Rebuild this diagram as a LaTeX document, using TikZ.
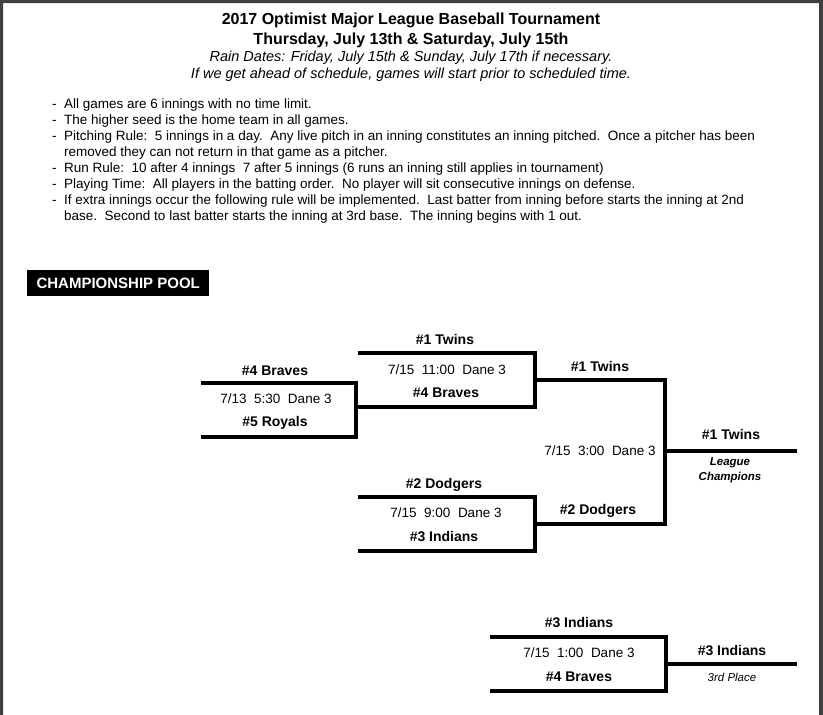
\documentclass[tikz,border=0pt]{standalone}
\usepackage{fontspec}
\setmainfont{Liberation Sans}
\usetikzlibrary{positioning}

\begin{document}
\begin{tikzpicture}[x=1pt,y=-1pt,
    team/.style={font=\fontsize{14}{16}\selectfont\bfseries, text height=10pt, text depth=0pt, inner sep=0pt},
    game/.style={font=\fontsize{13.5}{16}\selectfont, text height=10pt, text depth=0pt, inner sep=0pt},
    note/.style={font=\fontsize{11.5}{13}\selectfont\itshape, text height=8pt, text depth=0pt, inner sep=0pt},
    rule/.style={font=\fontsize{13.5}{16}\selectfont, anchor=base west, inner sep=0pt},
    bline/.style={line width=4pt, line join=miter, line cap=rect}]
    \useasboundingbox (0,0) rectangle (823,715);
    % frame of the page
    \fill[black!75] (0,0) rectangle (823,3)
                    (0,0) rectangle (3,715)
                    (819,0) rectangle (823,715);

    % heading
    \node[anchor=base, font=\fontsize{16}{19}\selectfont\bfseries] (title) at (411,24)
        {2017 Optimist Major League Baseball Tournament};
    \node[anchor=base, font=\fontsize{16}{19}\selectfont\bfseries] (dates) at (411,44)
        {Thursday, July 13th \& Saturday, July 15th};
    \node[anchor=base, font=\fontsize{14.5}{17}\selectfont\itshape] (rain) at (411,61)
        {Rain Dates: Friday, July 15th \& Sunday, July 17th if necessary.};
    \node[anchor=base, font=\fontsize{14.5}{17}\selectfont\itshape] (ahead) at (411,78)
        {If we get ahead of schedule, games will start prior to scheduled time.};

    % rules
    \foreach \i/\txt in {0/All games are 6 innings with no time limit.,
                         1/The higher seed is the home team in all games.,
                         2/{Pitching Rule:\ \ 5 innings in a day.\ \ Any live pitch in an inning constitutes an inning pitched.\ \ Once a pitcher has been},
                         3/removed they can not return in that game as a pitcher.,
                         4/{Run Rule:\ \ 10 after 4 innings\ \ 7 after 5 innings (6 runs an inning still applies in tournament)},
                         5/{Playing Time:\ \ All players in the batting order.\ \ No player will sit consecutive innings on defense.},
                         6/{If extra innings occur the following rule will be implemented.\ \ Last batter from inning before starts the inning at 2nd},
                         7/{base.\ \ Second to last batter starts the inning at 3rd base.\ \ The inning begins with 1 out.}}
        \node[rule] (rule\i) at (64,108+16*\i) {\txt};
    \foreach \i in {0,1,2,4,5,6}
        \node[rule] (dash\i) at (52,108+16*\i) {-};

    \node[anchor=north west, fill=black, text=white, inner xsep=5pt, minimum height=26pt,
          minimum width=182pt, font=\fontsize{15}{18}\selectfont\bfseries] (pool) at (27,270)
        {CHAMPIONSHIP POOL};

    % bracket corners
    \coordinate (g1a) at (203,383); \coordinate (g1b) at (356,383);
    \coordinate (g1c) at (356,437); \coordinate (g1d) at (203,437);
    \coordinate (g2a) at (360,353); \coordinate (g2b) at (535,353);
    \coordinate (g2c) at (535,407); \coordinate (g2d) at (356,407);
    \coordinate (g3a) at (360,497); \coordinate (g3b) at (535,497);
    \coordinate (g3c) at (535,551); \coordinate (g3d) at (360,551);
    \coordinate (f1) at (535,380);  \coordinate (f2) at (665,380);
    \coordinate (f3) at (665,524);  \coordinate (f4) at (535,524);
    \coordinate (champ0) at (665,451); \coordinate (champ1) at (795,451);
    \coordinate (t3a) at (492,637); \coordinate (t3b) at (666,637);
    \coordinate (t3c) at (666,691); \coordinate (t3d) at (492,691);
    \coordinate (third0) at (666,664); \coordinate (third1) at (795,664);

    \draw[bline] (g1a) -- (g1b) -- (g1c) -- (g1d);
    \draw[bline] (g2a) -- (g2b) -- (g2c) -- (g2d);
    \draw[bline] (g3a) -- (g3b) -- (g3c) -- (g3d);
    \draw[bline] (f1) -- (f2) -- (f3) -- (f4);
    \draw[bline] (champ0) -- (champ1);
    \draw[bline] (t3a) -- (t3b) -- (t3c) -- (t3d);
    \draw[bline] (third0) -- (third1);

    % game 1
    \node[team] (braves1) at (275,370) {\#4 Braves};
    \node[game] (game1) at (276,398) {7/13\ \ 5:30\ \ Dane 3};
    \node[team] (royals) at (275,421) {\#5 Royals};
    % game 2
    \node[team] (twins1) at (445,339) {\#1 Twins};
    \node[game] (game2) at (447,369) {7/15\ \ 11:00\ \ Dane 3};
    \node[team] (braves2) at (446,392) {\#4 Braves};
    % game 3
    \node[team] (dodgers1) at (444,483) {\#2 Dodgers};
    \node[game] (game3) at (446,512) {7/15\ \ 9:00\ \ Dane 3};
    \node[team] (indians1) at (444,536) {\#3 Indians};
    % final
    \node[team] (twins2) at (600,366) {\#1 Twins};
    \node[team] (dodgers2) at (598,509) {\#2 Dodgers};
    \node[game] (final) at (600,450) {7/15\ \ 3:00\ \ Dane 3};
    \node[team] (twins3) at (731,434) {\#1 Twins};
    \node[note, font=\fontsize{11.5}{13}\selectfont\bfseries\itshape] (league) at (730,461) {League};
    \node[note, font=\fontsize{11.5}{13}\selectfont\bfseries\itshape] (champs) at (730,476) {Champions};
    % third place
    \node[team] (indians2) at (579,622) {\#3 Indians};
    \node[game] (game4) at (579,652) {7/15\ \ 1:00\ \ Dane 3};
    \node[team] (braves3) at (579,676) {\#4 Braves};
    \node[team] (indians3) at (732,650) {\#3 Indians};
    \node[note] (third) at (732,677) {3rd Place};
\end{tikzpicture}
\end{document}
